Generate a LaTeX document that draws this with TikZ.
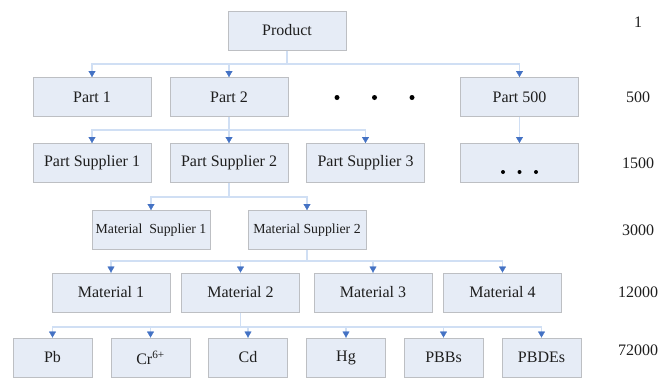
\documentclass[tikz,border=0pt]{standalone}
\usepackage{fontspec}
\setmainfont{Liberation Serif}
\usetikzlibrary{arrows.meta}
\definecolor{boxfill}{HTML}{E6ECF6}
\definecolor{boxline}{HTML}{BDBFC3}
\definecolor{connline}{HTML}{D0DFF4}
\definecolor{tipcol}{HTML}{4472C4}
\definecolor{txt}{HTML}{1E1E1E}
\begin{document}
\begin{tikzpicture}[x=1pt,y=-1pt,
  box/.style={draw=boxline,line width=1pt,fill=boxfill,inner sep=0pt,minimum width=118pt,minimum height=39pt,text=txt,font=\fontsize{16}{18}\selectfont},
  smallbox/.style={box,minimum width=79pt},
  msbox/.style={box,font=\fontsize{13.8}{16}\selectfont},
  link/.style={draw=connline,line width=1.4pt},
  tipmark/.style={draw=tipcol,fill=tipcol,line width=0.4pt,-{Triangle[width=7pt,length=6pt]}},
  lvl/.style={text=txt,font=\fontsize{16}{18}\selectfont,inner sep=0pt},
  bigdot/.style={circle,fill=black,inner sep=0pt,minimum size=5pt},
  tinydot/.style={circle,fill=black,inner sep=0pt,minimum size=4pt}]
\useasboundingbox (0,0) rectangle (661,378);
% level 0
\node[box] (product) at (287,30.5) {Product};
% level 1
\node[box] (p1) at (92,97) {Part 1};
\node[box] (p2) at (229,97) {Part 2};
\node[box] (p500) at (519.5,97) {Part 500};
\node[bigdot] (d1) at (337,97.5) {};
\node[bigdot] (d2) at (374.5,97.5) {};
\node[bigdot] (d3) at (412,97.5) {};
% level 2
\node[box] (ps1) at (92,163) {Part Supplier 1};
\node[box] (ps2) at (229,163) {Part Supplier 2};
\node[box] (ps3) at (365.5,163) {Part Supplier 3};
\node[box] (psx) at (519.5,163) {};
\node[tinydot] (e1) at (503,172) {};
\node[tinydot] (e2) at (519.5,172) {};
\node[tinydot] (e3) at (536,172) {};
% level 3
\node[msbox] (ms1) at (151,230) {Material\ \ Supplier 1};
\node[msbox] (ms2) at (307,230) {Material Supplier 2};
% level 4
\node[box] (m1) at (111,292.5) {Material 1};
\node[box] (m2) at (240.5,292.5) {Material 2};
\node[box] (m3) at (373,292.5) {Material 3};
\node[box] (m4) at (502.5,292.5) {Material 4};
% level 5
\node[smallbox] (pb) at (52.5,357.5) {Pb};
\node[smallbox] (cr) at (150.5,357.5) {Cr\textsuperscript{6+}};
\node[smallbox] (cd) at (248,357.5) {Cd};
\node[smallbox] (hg) at (346,357.5) {Hg};
\node[smallbox] (pbb) at (443.5,357.5) {PBBs};
\node[smallbox] (pbde) at (541.5,357.5) {PBDEs};
% level counts
\node[lvl] (n1) at (638,22.5) {1};
\node[lvl] (n2) at (638,97) {500};
\node[lvl] (n3) at (638,163) {1500};
\node[lvl] (n4) at (638,230) {3000};
\node[lvl] (n5) at (638,292) {12000};
\node[lvl] (n6) at (638,350) {72000};
% buses
\coordinate (b1) at (287,64);
\coordinate (b2) at (229,130);
\coordinate (b3) at (229,197);
\coordinate (b4) at (307,261);
\coordinate (b5) at (240.5,327);
\draw[link] (product.south) -- (b1);
\foreach \c in {p1,p2,p500} \draw[link] (b1) -| (\c.north);
\draw[link] (p2.south) -- (b2);
\foreach \c in {ps1,ps2,ps3} \draw[link] (b2) -| (\c.north);
\draw[link] (p500.south) -- (psx.north);
\draw[link] (ps2.south) -- (b3);
\foreach \c in {ms1,ms2} \draw[link] (b3) -| (\c.north);
\draw[link] (ms2.south) -- (b4);
\foreach \c in {m1,m2,m3,m4} \draw[link] (b4) -| (\c.north);
\draw[link] (m2.south) -- (b5);
\foreach \c in {pb,cr,cd,hg,pbb,pbde} \draw[link] (b5) -| (\c.north);
% arrow tips
\foreach \c in {p1,p2,p500,ps1,ps2,ps3,psx,ms1,ms2,m1,m2,m3,m4,pb,cr,cd,hg,pbb,pbde}
  \draw[tipmark] ([yshift=6pt]\c.north) -- (\c.north);
\end{tikzpicture}
\end{document}
